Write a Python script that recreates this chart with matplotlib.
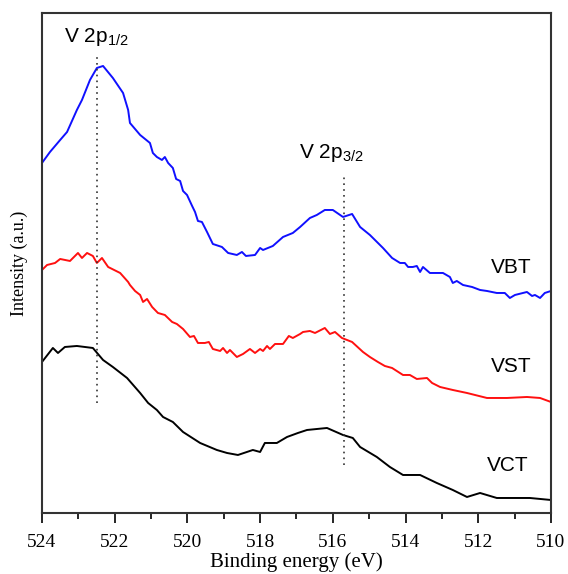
import matplotlib
matplotlib.use('Agg')
from matplotlib import pyplot as plt
from matplotlib.ticker import MultipleLocator

# V 2p XPS spectra, binding energy (eV) vs intensity (a.u., curves offset)
vbt_e = [524.00, 523.78, 523.50, 523.31, 523.04, 522.90, 522.68, 522.49, 522.32, 522.05,
         521.77, 521.63, 521.58, 521.30, 521.03, 520.95, 520.84, 520.70, 520.62, 520.53,
         520.40, 520.31, 520.20, 520.12, 520.01, 519.87, 519.79, 519.71, 519.60, 519.46,
         519.30, 519.05, 518.88, 518.64, 518.50, 518.39, 518.14, 518.00, 517.92, 517.65,
         517.37, 517.10, 516.90, 516.63, 516.44, 516.22, 516.00, 515.72, 515.47, 515.25,
         514.98, 514.62, 514.37, 514.15, 514.02, 513.93, 513.80, 513.69, 513.60, 513.52,
         513.33, 513.19, 512.97, 512.78, 512.70, 512.59, 512.42, 512.17, 511.95, 511.76,
         511.49, 511.27, 511.13, 510.99, 510.66, 510.52, 510.44, 510.30, 510.17, 510.00]
vbt_i = [350, 361, 373, 381, 403, 413, 433, 445, 447, 435,
         420, 403, 390, 378, 370, 360, 356, 353, 356, 350,
         345, 334, 332, 322, 318, 307, 301, 292, 291, 281,
         269, 266, 260, 258, 261, 257, 258, 265, 263, 267,
         276, 280, 286, 295, 298, 303, 303, 296, 299, 286,
         278, 265, 255, 250, 250, 246, 246, 247, 241, 246,
         240, 240, 240, 236, 230, 232, 228, 226, 223, 222,
         220, 220, 215, 218, 221, 217, 218, 215, 220, 222]

vst_e = [524.00, 523.86, 523.64, 523.50, 523.23, 523.01, 522.90, 522.76, 522.60, 522.49,
         522.35, 522.18, 521.85, 521.63, 521.58, 521.44, 521.30, 521.22, 521.11, 520.97,
         520.81, 520.62, 520.42, 520.29, 520.12, 519.93, 519.82, 519.71, 519.52, 519.41,
         519.30, 519.10, 519.02, 518.91, 518.83, 518.64, 518.47, 518.28, 518.14, 518.00,
         517.92, 517.81, 517.73, 517.59, 517.37, 517.21, 517.10, 516.90, 516.82, 516.63,
         516.49, 516.22, 516.08, 515.94, 515.75, 515.47, 515.17, 514.98, 514.76, 514.57,
         514.37, 514.07, 513.88, 513.69, 513.41, 513.27, 513.05, 512.70, 512.31, 511.76,
         511.21, 510.66, 510.30, 510.00]
vst_i = [243, 248, 250, 254, 252, 260, 255, 260, 257, 250,
         255, 246, 240, 231, 228, 222, 218, 211, 214, 206,
         200, 198, 191, 189, 184, 176, 177, 170, 170, 171,
         164, 162, 165, 160, 163, 156, 159, 164, 160, 164,
         162, 167, 164, 169, 169, 177, 175, 179, 181, 182,
         180, 185, 179, 181, 175, 171, 161, 156, 151, 147,
         145, 138, 138, 134, 135, 130, 126, 123, 120, 115,
         115, 116, 115, 111]

vct_e = [524.00, 523.70, 523.56, 523.37, 523.04, 522.60, 522.32, 522.05, 521.66, 521.30,
         521.08, 520.84, 520.67, 520.40, 520.12, 519.65, 519.19, 518.91, 518.61, 518.20,
         518.00, 517.87, 517.54, 517.26, 516.96, 516.71, 516.16, 515.72, 515.45, 515.25,
         514.79, 514.43, 514.07, 513.60, 513.14, 512.70, 512.31, 511.95, 511.49, 511.05,
         510.58, 510.00]
vct_i = [151, 165, 160, 166, 167, 165, 153, 146, 135, 120,
         110, 103, 96, 91, 81, 70, 63, 60, 58, 63,
         61, 70, 70, 76, 80, 83, 85, 78, 75, 66,
         56, 46, 38, 38, 30, 23, 16, 20, 15, 15,
         15, 13]

peak_pos = [522.5, 515.7]
peak_top = [458, 338]
peak_bottom = [110, 48]

plt.rcParams['mathtext.default'] = 'regular'
sans = ['Liberation Sans', 'DejaVu Sans']
serif = ['Liberation Serif', 'DejaVu Serif']

fig = plt.figure(figsize=(5.68, 5.74), dpi=100)
ax = fig.add_axes([0.0739, 0.1063, 0.8961, 0.8711])

ax.plot(vbt_e, vbt_i, color='#1010ff', lw=1.4)
ax.plot(vst_e, vst_i, color='#ff1010', lw=1.4)
ax.plot(vct_e, vct_i, color='black', lw=1.4)

for xp, yt, yb in zip(peak_pos, peak_top, peak_bottom):
    ax.plot([xp, xp], [yb, yt], color='#333333', lw=1.2, ls=(0, (1, 2.5)))

ax.text(522.5, 476, 'V 2p$_{1/2}$', family=sans, fontsize=15, ha='center', va='center')
ax.text(516.05, 360, 'V 2p$_{3/2}$', family=sans, fontsize=15, ha='center', va='center')
ax.text(511.1, 245, 'VBT', family=sans, fontsize=15, ha='center', va='center')
ax.text(511.1, 146, 'VST', family=sans, fontsize=15, ha='center', va='center')
ax.text(511.2, 47, 'VCT', family=sans, fontsize=15, ha='center', va='center')

ax.set_xlim(524, 510)
ax.set_ylim(0, 500)
ax.xaxis.set_major_locator(MultipleLocator(2))
ax.xaxis.set_minor_locator(MultipleLocator(1))
ax.tick_params(axis='x', which='major', direction='out', length=7, width=1.2, labelsize=14, pad=8)
ax.tick_params(axis='x', which='minor', direction='out', length=4, width=1.2)
ax.set_yticks([])
for lab in ax.get_xticklabels():
    lab.set_family(serif)
for s in ax.spines.values():
    s.set_linewidth(1.5)
    s.set_color('#333333')

ax.set_xlabel('Binding energy (eV)', family=serif, fontsize=15, labelpad=1)
ax.set_ylabel('Intensity (a.u.)', family=serif, fontsize=13, labelpad=10)

fig.savefig('out.png', dpi=100)
